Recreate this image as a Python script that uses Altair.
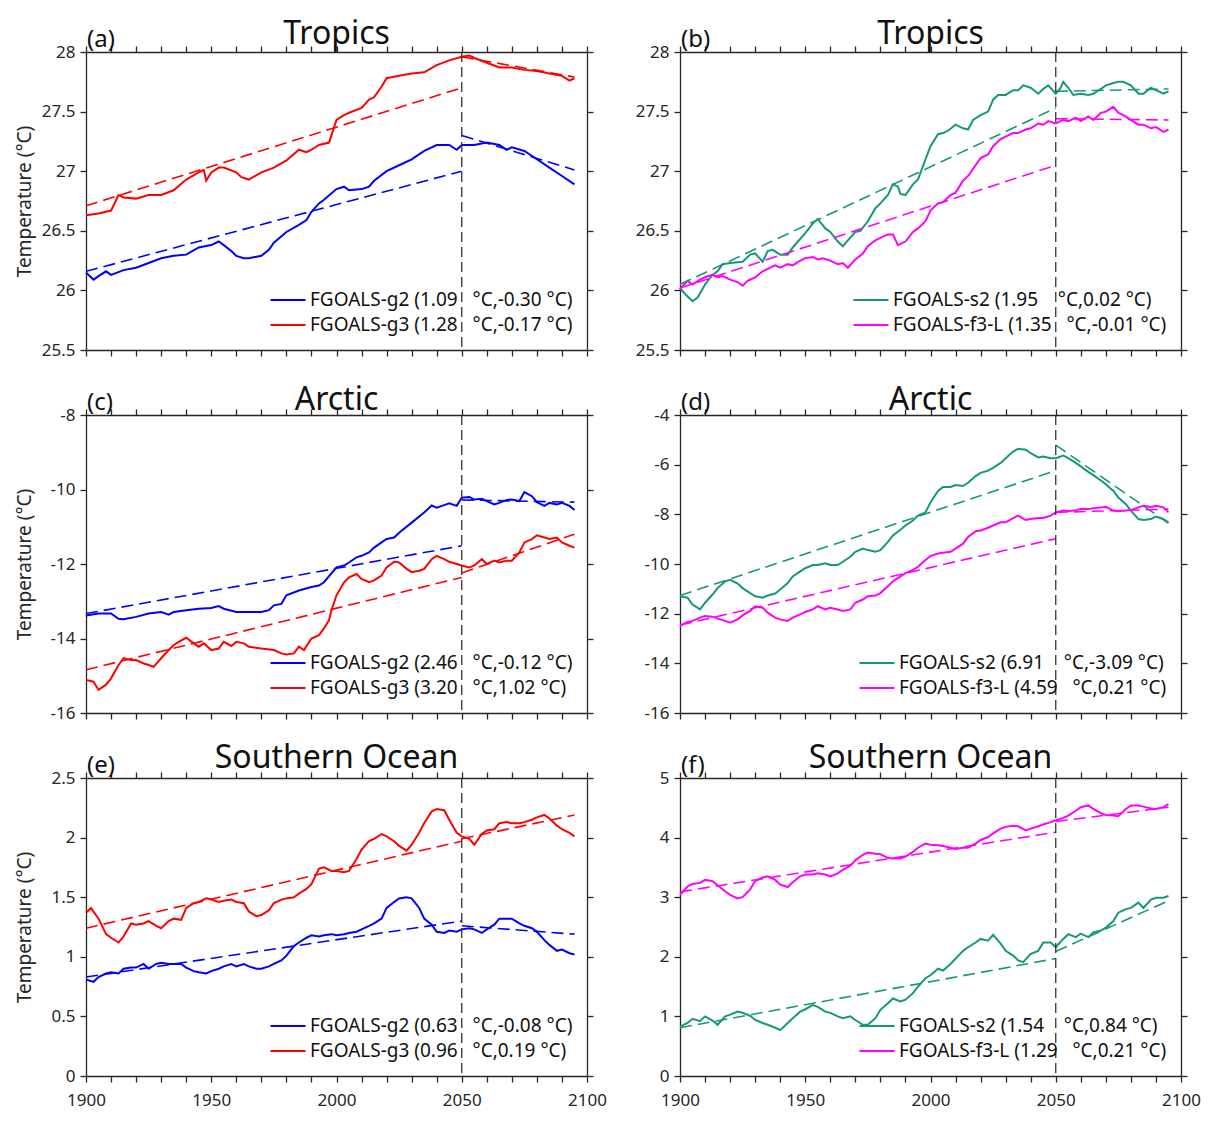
import altair as alt
import pandas as pd

FONT = "Noto Sans"
INK = "#262626"

# ---------------- data ----------------
X_TICKS = list(range(1900, 2101, 10))

BLUE, RED, GREEN, MAGENTA = "#0000FF", "#FF0000", "#16977A", "#FF00FF"
NB = "\u00a0"

# (a) Tropics, FGOALS-g2 / g3
A_G2 = [(1900,26.15),(1903,26.09),(1905,26.12),(1908,26.16),(1910,26.13),(1915,26.17),(1920,26.19),(1925,26.23),
        (1930,26.27),(1935,26.29),(1940,26.30),(1945,26.36),(1950,26.38),(1953,26.41),(1955,26.38),(1958,26.33),
        (1960,26.29),(1963,26.27),(1965,26.27),(1970,26.29),(1973,26.34),(1975,26.40),(1980,26.49),(1985,26.55),
        (1988,26.59),(1990,26.66),(1993,26.73),(1995,26.76),(2000,26.85),(2003,26.87),(2005,26.84),(2010,26.85),
        (2013,26.87),(2015,26.92),(2020,27.00),(2025,27.05),(2030,27.10),(2035,27.17),(2040,27.22),(2045,27.22),
        (2048,27.18),(2050,27.22),(2055,27.22),(2060,27.24),(2065,27.22),(2068,27.18),(2070,27.20),(2075,27.17),
        (2080,27.10),(2085,27.03),(2090,26.96),(2095,26.89)]
A_G3 = [(1900,26.63),(1905,26.645),(1910,26.67),(1913,26.80),(1915,26.78),(1920,26.77),(1925,26.80),(1930,26.80),
        (1935,26.84),(1940,26.93),(1945,26.99),(1947,27.01),(1948,26.92),(1950,26.99),(1953,27.03),(1955,27.03),
        (1960,26.99),(1962,26.95),(1965,26.93),(1970,26.99),(1975,27.03),(1980,27.09),(1985,27.18),(1988,27.16),
        (1990,27.18),(1993,27.22),(1997,27.24),(2000,27.43),(2003,27.47),(2005,27.49),(2010,27.53),(2013,27.60),
        (2015,27.62),(2018,27.71),(2020,27.78),(2025,27.80),(2030,27.82),(2035,27.83),(2040,27.89),(2045,27.93),
        (2050,27.96),(2053,27.97),(2055,27.95),(2060,27.91),(2065,27.87),(2070,27.87),(2075,27.85),(2080,27.84),
        (2085,27.82),(2090,27.80),(2093,27.76),(2095,27.78)]
A_G2_TREND = [[(1900,26.16),(2050,27.00)], [(2050,27.30),(2095,27.01)]]
A_G3_TREND = [[(1900,26.71),(2050,27.70)], [(2050,27.96),(2095,27.79)]]
A_LABELS = ["FGOALS-g2 (1.09" + NB*3 + "°C,-0.30 °C)", "FGOALS-g3 (1.28" + NB*3 + "°C,-0.17 °C)"]
A_YTICKS = [25.5, 26, 26.5, 27, 27.5, 28]

# (b) Tropics, FGOALS-s2 / f3-L
B_S2 = [(1900,26.02),(1902,25.97),(1905,25.91),(1907,25.94),(1910,26.05),(1913,26.13),(1915,26.16),(1917,26.22),
        (1920,26.23),(1925,26.24),(1928,26.30),(1930,26.31),(1933,26.24),(1935,26.33),(1937,26.34),(1940,26.30),
        (1943,26.30),(1945,26.36),(1950,26.48),(1953,26.56),(1955,26.60),(1958,26.52),(1960,26.49),(1963,26.41),
        (1965,26.37),(1967,26.42),(1970,26.49),(1972,26.50),(1975,26.58),(1978,26.69),(1980,26.73),(1983,26.80),
        (1985,26.89),(1987,26.87),(1988,26.81),(1990,26.80),(1993,26.89),(1995,26.93),(1998,27.10),(2000,27.21),
        (2003,27.31),(2005,27.32),(2007,27.34),(2010,27.39),(2013,27.36),(2015,27.35),(2017,27.43),(2020,27.47),
        (2023,27.50),(2025,27.60),(2027,27.64),(2030,27.64),(2033,27.68),(2035,27.68),(2037,27.72),(2040,27.70),
        (2043,27.65),(2045,27.69),(2047,27.72),(2050,27.65),(2052,27.70),(2053,27.75),(2055,27.70),(2057,27.64),
        (2060,27.65),(2063,27.64),(2065,27.65),(2068,27.69),(2070,27.72),(2073,27.74),(2075,27.75),(2077,27.75),
        (2080,27.72),(2083,27.65),(2085,27.65),(2088,27.70),(2090,27.68),(2093,27.65),(2095,27.67)]
B_F3 = [(1900,26.01),(1903,26.08),(1905,26.05),(1908,26.09),(1910,26.11),(1913,26.13),(1915,26.11),(1917,26.12),
        (1920,26.09),(1923,26.07),(1925,26.04),(1927,26.08),(1930,26.11),(1933,26.16),(1935,26.18),(1938,26.21),
        (1940,26.19),(1943,26.22),(1945,26.21),(1948,26.25),(1950,26.27),(1953,26.28),(1955,26.26),(1957,26.27),
        (1960,26.25),(1963,26.22),(1965,26.23),(1967,26.19),(1970,26.26),(1973,26.31),(1975,26.37),(1978,26.42),
        (1980,26.44),(1983,26.47),(1985,26.47),(1987,26.38),(1990,26.41),(1993,26.49),(1995,26.52),(1998,26.58),
        (2000,26.67),(2003,26.73),(2005,26.74),(2008,26.80),(2010,26.82),(2013,26.92),(2015,26.96),(2018,27.05),
        (2020,27.11),(2023,27.14),(2025,27.21),(2028,27.27),(2030,27.29),(2033,27.32),(2035,27.32),(2038,27.35),
        (2040,27.36),(2043,27.40),(2045,27.39),(2047,27.42),(2050,27.40),(2053,27.43),(2055,27.42),(2058,27.45),
        (2060,27.42),(2063,27.46),(2065,27.43),(2068,27.49),(2070,27.50),(2073,27.54),(2075,27.49),(2077,27.47),
        (2080,27.43),(2083,27.39),(2085,27.39),(2088,27.36),(2090,27.37),(2093,27.33),(2095,27.35)]
B_S2_TREND = [[(1900,26.05),(2050,27.53)], [(2050,27.67),(2095,27.69)]]
B_F3_TREND = [[(1900,26.02),(2050,27.05)], [(2050,27.44),(2095,27.43)]]
B_LABELS = ["FGOALS-s2 (1.95" + NB*4 + "°C,0.02 °C)", "FGOALS-f3-L (1.35" + NB*3 + "°C,-0.01 °C)"]
B_YTICKS = [25.5, 26, 26.5, 27, 27.5, 28]

# (c) Arctic, FGOALS-g2 / g3
C_G2 = [(1900,-13.38),(1905,-13.33),(1910,-13.33),(1913,-13.47),(1915,-13.48),(1920,-13.42),(1925,-13.33),
        (1930,-13.29),(1933,-13.36),(1935,-13.29),(1940,-13.24),(1945,-13.20),(1950,-13.18),(1953,-13.13),
        (1955,-13.20),(1960,-13.29),(1965,-13.29),(1970,-13.29),(1973,-13.24),(1975,-13.11),(1978,-13.07),
        (1980,-12.84),(1985,-12.71),(1990,-12.62),(1993,-12.58),(1995,-12.49),(2000,-12.09),(2003,-12.04),
        (2005,-11.96),(2008,-11.82),(2010,-11.78),(2013,-11.69),(2015,-11.56),(2018,-11.42),(2020,-11.33),
        (2023,-11.29),(2025,-11.16),(2030,-10.89),(2035,-10.62),(2038,-10.43),(2040,-10.49),(2043,-10.42),
        (2045,-10.37),(2048,-10.44),(2050,-10.22),(2053,-10.20),(2055,-10.27),(2058,-10.25),(2060,-10.31),
        (2063,-10.40),(2065,-10.36),(2068,-10.28),(2070,-10.27),(2073,-10.31),(2075,-10.07),(2078,-10.18),
        (2080,-10.34),(2083,-10.44),(2085,-10.36),(2088,-10.40),(2090,-10.36),(2093,-10.44),(2095,-10.55)]
C_G3 = [(1900,-15.11),(1903,-15.16),(1905,-15.38),(1908,-15.24),(1910,-15.07),(1913,-14.71),(1915,-14.53),
        (1918,-14.58),(1920,-14.58),(1923,-14.67),(1925,-14.71),(1927,-14.76),(1930,-14.53),(1933,-14.31),
        (1935,-14.18),(1937,-14.09),(1940,-13.98),(1943,-14.13),(1945,-14.22),(1947,-14.13),(1950,-14.31),
        (1953,-14.27),(1955,-14.09),(1958,-14.20),(1960,-14.09),(1963,-14.13),(1965,-14.22),(1970,-14.27),
        (1975,-14.31),(1978,-14.40),(1980,-14.43),(1983,-14.40),(1985,-14.22),(1987,-14.31),(1990,-14.00),
        (1993,-13.91),(1995,-13.73),(1997,-13.51),(1998,-13.24),(2000,-12.84),(2003,-12.49),(2005,-12.36),
        (2008,-12.27),(2010,-12.40),(2013,-12.49),(2015,-12.44),(2018,-12.31),(2020,-12.09),(2023,-11.94),
        (2025,-11.96),(2028,-12.13),(2030,-12.22),(2033,-12.18),(2035,-12.13),(2038,-11.87),(2040,-11.78),
        (2043,-11.87),(2045,-11.94),(2048,-12.00),(2050,-12.04),(2053,-12.09),(2055,-12.04),(2058,-11.87),
        (2060,-12.00),(2063,-11.91),(2065,-11.96),(2068,-11.91),(2070,-11.91),(2073,-11.69),(2075,-11.42),
        (2078,-11.33),(2080,-11.23),(2083,-11.29),(2085,-11.33),(2088,-11.29),(2090,-11.42),(2093,-11.51),
        (2095,-11.56)]
C_G2_TREND = [[(1900,-13.33),(2050,-11.51)], [(2050,-10.28),(2095,-10.34)]]
C_G3_TREND = [[(1900,-14.84),(2050,-12.36)], [(2050,-12.24),(2095,-11.20)]]
C_LABELS = ["FGOALS-g2 (2.46" + NB*3 + "°C,-0.12 °C)", "FGOALS-g3 (3.20" + NB*3 + "°C,1.02 °C)"]
C_YTICKS = [-16, -14, -12, -10, -8]

# (d) Arctic, FGOALS-s2 / f3-L
D_S2 = [(1900,-11.30),(1903,-11.36),(1905,-11.63),(1908,-11.83),(1910,-11.56),(1913,-11.23),(1915,-10.97),
        (1918,-10.70),(1920,-10.64),(1923,-10.79),(1925,-10.97),(1928,-11.17),(1930,-11.30),(1933,-11.36),
        (1935,-11.27),(1938,-11.19),(1940,-11.03),(1943,-10.77),(1945,-10.50),(1948,-10.30),(1950,-10.17),
        (1953,-10.04),(1955,-10.04),(1958,-9.97),(1960,-10.04),(1963,-10.04),(1965,-9.91),(1968,-9.71),
        (1970,-9.51),(1973,-9.38),(1975,-9.44),(1978,-9.51),(1980,-9.44),(1983,-9.11),(1985,-8.85),(1988,-8.62),
        (1990,-8.45),(1993,-8.25),(1995,-8.05),(1998,-7.92),(2000,-7.52),(2003,-7.06),(2005,-6.90),(2008,-6.90),
        (2010,-6.82),(2013,-6.86),(2015,-6.73),(2018,-6.46),(2020,-6.33),(2023,-6.24),(2025,-6.13),(2028,-5.93),
        (2030,-5.74),(2033,-5.47),(2035,-5.36),(2038,-5.40),(2040,-5.54),(2043,-5.71),(2045,-5.67),(2048,-5.74),
        (2050,-5.74),(2053,-5.63),(2055,-5.74),(2058,-5.93),(2060,-6.07),(2063,-6.29),(2065,-6.42),(2068,-6.64),
        (2070,-6.79),(2073,-7.06),(2075,-7.32),(2078,-7.59),(2080,-7.85),(2083,-8.19),(2085,-8.23),(2088,-8.19),
        (2090,-8.09),(2093,-8.19),(2095,-8.32)]
D_F3 = [(1900,-12.49),(1903,-12.33),(1905,-12.29),(1908,-12.16),(1910,-12.09),(1913,-12.12),(1915,-12.20),
        (1918,-12.29),(1920,-12.36),(1923,-12.23),(1925,-12.07),(1928,-11.89),(1930,-11.70),(1933,-11.76),
        (1935,-11.96),(1938,-12.16),(1940,-12.23),(1943,-12.29),(1945,-12.16),(1948,-12.03),(1950,-11.93),
        (1953,-11.83),(1955,-11.70),(1958,-11.83),(1960,-11.76),(1963,-11.83),(1965,-11.89),(1968,-11.83),
        (1970,-11.56),(1973,-11.43),(1975,-11.30),(1978,-11.27),(1980,-11.17),(1983,-10.90),(1985,-10.70),
        (1988,-10.50),(1990,-10.37),(1993,-10.24),(1995,-10.11),(1998,-9.84),(2000,-9.68),(2003,-9.58),
        (2005,-9.55),(2008,-9.51),(2010,-9.38),(2013,-9.18),(2015,-8.91),(2018,-8.68),(2020,-8.65),(2023,-8.54),
        (2025,-8.45),(2028,-8.32),(2030,-8.32),(2033,-8.15),(2035,-8.05),(2038,-8.23),(2040,-8.19),(2043,-8.15),
        (2045,-8.15),(2048,-8.05),(2050,-7.92),(2053,-7.85),(2055,-7.88),(2058,-7.83),(2060,-7.79),(2063,-7.79),
        (2065,-7.75),(2068,-7.72),(2070,-7.70),(2073,-7.85),(2075,-7.88),(2078,-7.85),(2080,-7.83),(2083,-7.72),
        (2085,-7.66),(2088,-7.70),(2090,-7.66),(2093,-7.72),(2095,-7.92)]
D_S2_TREND = [[(1900,-11.27),(2050,-6.24)], [(2050,-5.21),(2095,-8.36)]]
D_F3_TREND = [[(1900,-12.46),(2050,-8.98)], [(2050,-7.92),(2095,-7.79)]]
D_LABELS = ["FGOALS-s2 (6.91" + NB*4 + "°C,-3.09 °C)", "FGOALS-f3-L (4.59" + NB*3 + "°C,0.21 °C)"]
D_YTICKS = [-16, -14, -12, -10, -8, -6, -4]

# (e) Southern Ocean, FGOALS-g2 / g3
E_G2 = [(1900,0.81),(1903,0.79),(1905,0.83),(1908,0.86),(1910,0.87),(1913,0.86),(1915,0.90),(1918,0.91),
        (1920,0.91),(1923,0.94),(1925,0.90),(1928,0.94),(1930,0.95),(1933,0.94),(1935,0.94),(1938,0.94),
        (1940,0.91),(1943,0.88),(1945,0.87),(1948,0.86),(1950,0.88),(1953,0.90),(1955,0.92),(1958,0.94),
        (1960,0.92),(1963,0.94),(1965,0.92),(1968,0.90),(1970,0.90),(1973,0.92),(1975,0.94),(1978,0.97),
        (1980,1.01),(1983,1.09),(1985,1.12),(1988,1.16),(1990,1.18),(1993,1.17),(1995,1.18),(1998,1.19),
        (2000,1.18),(2003,1.19),(2005,1.20),(2008,1.21),(2010,1.23),(2013,1.26),(2015,1.28),(2018,1.32),
        (2020,1.41),(2023,1.46),(2025,1.49),(2028,1.50),(2030,1.49),(2033,1.41),(2035,1.32),(2038,1.27),
        (2040,1.21),(2043,1.20),(2045,1.22),(2048,1.21),(2050,1.23),(2053,1.24),(2055,1.23),(2058,1.20),
        (2060,1.23),(2063,1.27),(2065,1.32),(2068,1.32),(2070,1.32),(2073,1.28),(2075,1.26),(2078,1.24),
        (2080,1.21),(2083,1.14),(2085,1.10),(2088,1.05),(2090,1.06),(2093,1.03),(2095,1.02)]
E_G3 = [(1900,1.37),(1902,1.41),(1905,1.32),(1908,1.19),(1910,1.16),(1913,1.12),(1915,1.17),(1918,1.28),
        (1920,1.27),(1923,1.28),(1925,1.30),(1928,1.26),(1930,1.24),(1933,1.30),(1935,1.32),(1938,1.31),
        (1940,1.41),(1943,1.45),(1945,1.46),(1948,1.49),(1950,1.48),(1953,1.46),(1955,1.47),(1958,1.48),
        (1960,1.46),(1963,1.45),(1965,1.38),(1968,1.34),(1970,1.35),(1973,1.39),(1975,1.45),(1978,1.48),
        (1980,1.49),(1983,1.50),(1985,1.53),(1988,1.57),(1990,1.61),(1993,1.74),(1995,1.75),(1998,1.72),
        (2000,1.72),(2003,1.71),(2005,1.72),(2008,1.82),(2010,1.90),(2013,1.97),(2015,1.99),(2018,2.03),
        (2020,2.01),(2023,1.97),(2025,1.93),(2028,1.89),(2030,1.94),(2033,2.04),(2035,2.12),(2038,2.22),
        (2040,2.24),(2043,2.23),(2045,2.15),(2048,2.04),(2050,2.01),(2053,1.99),(2055,1.94),(2058,2.03),
        (2060,2.06),(2063,2.07),(2065,2.12),(2068,2.13),(2070,2.12),(2073,2.12),(2075,2.13),(2078,2.15),
        (2080,2.17),(2083,2.19),(2085,2.16),(2088,2.10),(2090,2.07),(2093,2.04),(2095,2.01)]
E_G2_TREND = [[(1900,0.83),(2050,1.30)], [(2050,1.26),(2095,1.19)]]
E_G3_TREND = [[(1900,1.24),(2050,1.97)], [(2050,1.99),(2095,2.19)]]
E_LABELS = ["FGOALS-g2 (0.63" + NB*3 + "°C,-0.08 °C)", "FGOALS-g3 (0.96" + NB*3 + "°C,0.19 °C)"]
E_YTICKS = [0, 0.5, 1, 1.5, 2, 2.5]

# (f) Southern Ocean, FGOALS-s2 / f3-L
F_S2 = [(1900,0.83),(1903,0.89),(1905,0.96),(1908,0.92),(1910,1.00),(1913,0.93),(1915,0.86),(1918,1.00),
        (1920,1.03),(1923,1.08),(1925,1.06),(1928,1.01),(1930,0.94),(1933,0.89),(1935,0.86),(1938,0.81),
        (1940,0.77),(1943,0.89),(1945,0.97),(1948,1.08),(1950,1.12),(1953,1.19),(1955,1.16),(1958,1.08),
        (1960,1.06),(1963,1.00),(1965,0.97),(1968,1.00),(1970,0.94),(1973,0.86),(1975,0.86),(1978,0.97),
        (1980,1.11),(1983,1.22),(1985,1.30),(1988,1.25),(1990,1.28),(1993,1.39),(1995,1.50),(1998,1.64),
        (2000,1.69),(2003,1.80),(2005,1.77),(2008,1.88),(2010,1.97),(2013,2.10),(2015,2.16),(2018,2.24),
        (2020,2.30),(2023,2.27),(2025,2.37),(2028,2.22),(2030,2.10),(2033,2.02),(2035,1.94),(2037,1.91),
        (2040,2.05),(2043,2.10),(2045,2.24),(2048,2.24),(2050,2.16),(2053,2.30),(2055,2.38),(2058,2.33),
        (2060,2.39),(2063,2.33),(2065,2.41),(2068,2.44),(2070,2.49),(2073,2.60),(2075,2.74),(2078,2.80),
        (2080,2.82),(2083,2.91),(2085,2.82),(2088,2.96),(2090,2.99),(2093,2.99),(2095,3.02)]
F_F3 = [(1900,3.04),(1903,3.18),(1905,3.22),(1908,3.24),(1910,3.29),(1913,3.27),(1915,3.20),(1918,3.10),
        (1920,3.04),(1923,2.98),(1925,3.00),(1928,3.13),(1930,3.27),(1933,3.33),(1935,3.35),(1938,3.29),
        (1940,3.21),(1943,3.17),(1945,3.25),(1948,3.35),(1950,3.38),(1953,3.38),(1955,3.40),(1958,3.38),
        (1960,3.35),(1963,3.40),(1965,3.46),(1968,3.53),(1970,3.62),(1973,3.71),(1975,3.75),(1978,3.73),
        (1980,3.72),(1983,3.66),(1985,3.65),(1988,3.65),(1990,3.68),(1993,3.76),(1995,3.83),(1998,3.90),
        (2000,3.88),(2003,3.87),(2005,3.86),(2008,3.83),(2010,3.81),(2013,3.83),(2015,3.83),(2018,3.90),
        (2020,3.96),(2023,4.01),(2025,4.07),(2028,4.15),(2030,4.18),(2033,4.20),(2035,4.19),(2038,4.12),
        (2040,4.15),(2043,4.19),(2045,4.22),(2048,4.26),(2050,4.29),(2053,4.33),(2055,4.37),(2058,4.45),
        (2060,4.51),(2063,4.54),(2065,4.48),(2068,4.41),(2070,4.38),(2073,4.37),(2075,4.36),(2078,4.48),
        (2080,4.54),(2083,4.54),(2085,4.52),(2088,4.49),(2090,4.48),(2093,4.51),(2095,4.56)]
F_S2_TREND = [[(1900,0.81),(2050,1.97)], [(2050,2.09),(2095,2.94)]]
F_F3_TREND = [[(1900,3.09),(2050,4.09)], [(2050,4.27),(2095,4.51)]]
F_LABELS = ["FGOALS-s2 (1.54" + NB*4 + "°C,0.84 °C)", "FGOALS-f3-L (1.29" + NB*3 + "°C,0.21 °C)"]
F_YTICKS = [0, 1, 2, 3, 4, 5]

PANELS = [
    dict(tag="(a)", title="Tropics", labels=A_LABELS, series=[A_G2, A_G3], trends=[A_G2_TREND, A_G3_TREND],
         colors=[BLUE, RED], yticks=A_YTICKS),
    dict(tag="(b)", title="Tropics", labels=B_LABELS, series=[B_S2, B_F3], trends=[B_S2_TREND, B_F3_TREND],
         colors=[GREEN, MAGENTA], yticks=B_YTICKS),
    dict(tag="(c)", title="Arctic", labels=C_LABELS, series=[C_G2, C_G3], trends=[C_G2_TREND, C_G3_TREND],
         colors=[BLUE, RED], yticks=C_YTICKS),
    dict(tag="(d)", title="Arctic", labels=D_LABELS, series=[D_S2, D_F3], trends=[D_S2_TREND, D_F3_TREND],
         colors=[GREEN, MAGENTA], yticks=D_YTICKS),
    dict(tag="(e)", title="Southern Ocean", labels=E_LABELS, series=[E_G2, E_G3], trends=[E_G2_TREND, E_G3_TREND],
         colors=[BLUE, RED], yticks=E_YTICKS),
    dict(tag="(f)", title="Southern Ocean", labels=F_LABELS, series=[F_S2, F_F3], trends=[F_S2_TREND, F_F3_TREND],
         colors=[GREEN, MAGENTA], yticks=F_YTICKS),
]

# ---------------- layout / style ----------------
W, H = 501, 298
TITLE_DY = [-8, -8, -5, -5, -10, -10]
LABEL_EXPR = "replace(format(datum.value, '~g'), '\u2212', '-')"


def make_panel(i, p):
    left_col = i % 2 == 0
    bottom_row = i >= 4
    rows, trows = [], []
    for lab, pts in zip(p["labels"], p["series"]):
        for yr, v in pts:
            rows.append({"year": yr, "temp": v, "model": lab})
    for lab, segs in zip(p["labels"], p["trends"]):
        for k, seg in enumerate(segs):
            for yr, v in seg:
                trows.append({"year": yr, "temp": v, "model": lab, "seg": k})
    df = pd.DataFrame(rows)
    tdf = pd.DataFrame(trows)

    xs = alt.Scale(domain=[1900, 2100], nice=False, zero=False)
    ys = alt.Scale(domain=[min(p["yticks"]), max(p["yticks"])], nice=False, zero=False)
    cs = alt.Scale(domain=p["labels"], range=p["colors"])

    x_axis = alt.Axis(orient="bottom", values=X_TICKS, title=None, labels=bottom_row, format="d",
                      labelExpr="datum.value % 50 == 0 ? datum.label : ''", labelOverlap=False,
                      labelFlush=False, tickSize=6, labelPadding=10, grid=False)
    y_axis = alt.Axis(orient="left", values=p["yticks"], labelExpr=LABEL_EXPR,
                      title="Temperature (°C)" if left_col else None, titlePadding=0,
                      minExtent=52, maxExtent=52, tickSize=6, labelPadding=5, grid=False)

    lines = alt.Chart(df).mark_line(strokeWidth=2).encode(
        x=alt.X("year:Q", scale=xs, axis=x_axis),
        y=alt.Y("temp:Q", scale=ys, axis=y_axis),
        color=alt.Color("model:N", scale=cs, sort=p["labels"],
                        legend=alt.Legend(title=None, orient="bottom-right", offset=14,
                                          symbolType="stroke", symbolSize=1225, symbolStrokeWidth=2.2,
                                          labelFont=FONT, labelFontSize=19, labelColor="#111111",
                                          labelLimit=600, clipHeight=22, rowPadding=3, labelOffset=3)),
    )
    trends = alt.Chart(tdf).mark_line(strokeWidth=1.6, strokeDash=[12, 6]).encode(
        x=alt.X("year:Q", scale=xs, axis=None),
        y=alt.Y("temp:Q", scale=ys, axis=None),
        color=alt.Color("model:N", scale=cs, legend=None),
        detail="seg:N",
    )
    frame = alt.Chart(df).mark_line(opacity=0).encode(
        x=alt.X("year:Q", scale=xs, axis=alt.Axis(orient="top", values=X_TICKS, labels=False, title=None,
                                                   tickSize=6, grid=False)),
        y=alt.Y("temp:Q", scale=ys, axis=alt.Axis(orient="right", values=p["yticks"], labels=False,
                                                   title=None, tickSize=6, grid=False)),
        detail="model:N",
    )
    vline = alt.Chart(pd.DataFrame({"year": [2050]})).mark_rule(
        color="#333333", strokeWidth=1.3, strokeDash=[10, 5]).encode(
        x=alt.X("year:Q", scale=xs, axis=None))
    tag = alt.Chart(pd.DataFrame({"t": [p["tag"]]})).mark_text(
        font=FONT, fontSize=24, align="left", baseline="alphabetic", color="#111111").encode(
        x=alt.value(1), y=alt.value(-5), text="t:N")
    ttl = alt.Chart(pd.DataFrame({"t": [p["title"]]})).mark_text(
        font=FONT, fontSize=32, align="center", baseline="alphabetic", color="#111111").encode(
        x=alt.value(W / 2), y=alt.value(TITLE_DY[i]), text="t:N")

    return alt.layer(lines, trends, vline, frame, tag, ttl).resolve_axis(
        x="independent", y="independent").properties(width=W, height=H)


panels = [make_panel(i, p) for i, p in enumerate(PANELS)]

chart = alt.concat(*panels, columns=2, bounds="flush", spacing={"row": 65, "column": 93}).resolve_scale(
    color="independent", y="independent", x="independent"
).properties(
    background="white", padding={"top": 10, "left": 7, "right": 5, "bottom": 3}
).configure_view(stroke=None).configure_axis(
    domainColor=INK, tickColor=INK, labelColor=INK, titleColor=INK, domainWidth=1.3, tickWidth=1.3,
    labelFont=FONT, labelFontSize=17, titleFont=FONT, titleFontSize=19, titleFontWeight="normal", grid=False
)

chart.save("out.html", embed_options={"renderer": "svg", "actions": False})
